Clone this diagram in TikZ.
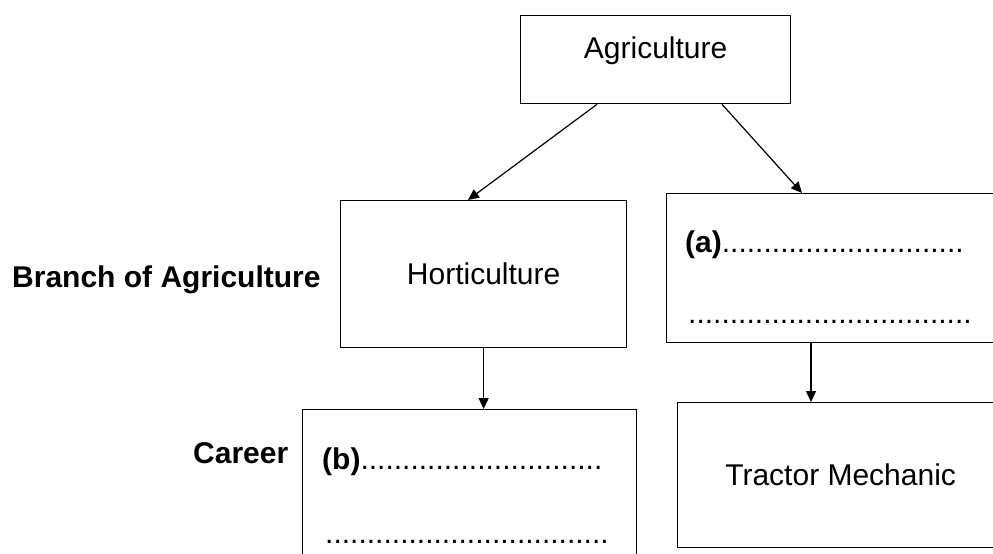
\documentclass[tikz,border=0pt]{standalone}
\usepackage{fontspec}
\setmainfont{Liberation Sans}
\usetikzlibrary{arrows.meta}
\begin{document}
\begin{tikzpicture}[x=1pt,y=-1pt,
  box/.style={draw, line width=1.3pt, inner sep=0pt, anchor=north west},
  conn/.style={line width=1.2pt, -{Triangle[length=11pt,width=10pt]}},
  lab/.style={font=\fontsize{30}{36}\selectfont},
  side/.style={font=\fontsize{30}{36}\selectfont\bfseries, anchor=base west, inner sep=0pt},
  fill/.style={font=\fontsize{30}{36}\selectfont, anchor=base west, inner sep=0pt}]
\useasboundingbox (0,0) rectangle (993,554);
\clip (0,0) rectangle (993,554);
% boxes
\node[box, lab, minimum width=270pt, minimum height=88pt, text height=21pt, text depth=23pt] (agr) at (520,15) {Agriculture};
\node[box, lab, minimum width=286pt, minimum height=147pt] (hort) at (340,200) {Horticulture};
\node[box, minimum width=337pt, minimum height=149pt] (a) at (666,193) {};
\node[box, minimum width=334pt, minimum height=200pt] (b) at (302,409) {};
\node[box, lab, minimum width=326pt, minimum height=145pt] (tm) at (677,402) {Tractor Mechanic};
% fill-in texts
\node[fill] (atext) at (685,252) {\textbf{(a)}.............................};
\node[fill] (adots) at (688,323) {..................................};
\node[fill] (btext) at (322,469) {\textbf{(b)}.............................};
\node[fill] (bdots) at (325,543) {..................................};
% side labels
\node[side] (branch) at (12,287) {Branch of Agriculture};
\node[side] (career) at (193,463) {Career};
% connectors
\draw[conn] ([xshift=77pt]agr.south west) -- ([xshift=128pt]hort.north west);
\draw[conn] ([xshift=202pt]agr.south west) -- ([xshift=136pt]a.north west);
\draw[conn] (hort.south) -- (hort.south |- b.north);
\draw[conn] ([xshift=145pt]a.south west) -- ([xshift=134pt]tm.north west);
\end{tikzpicture}
\end{document}
